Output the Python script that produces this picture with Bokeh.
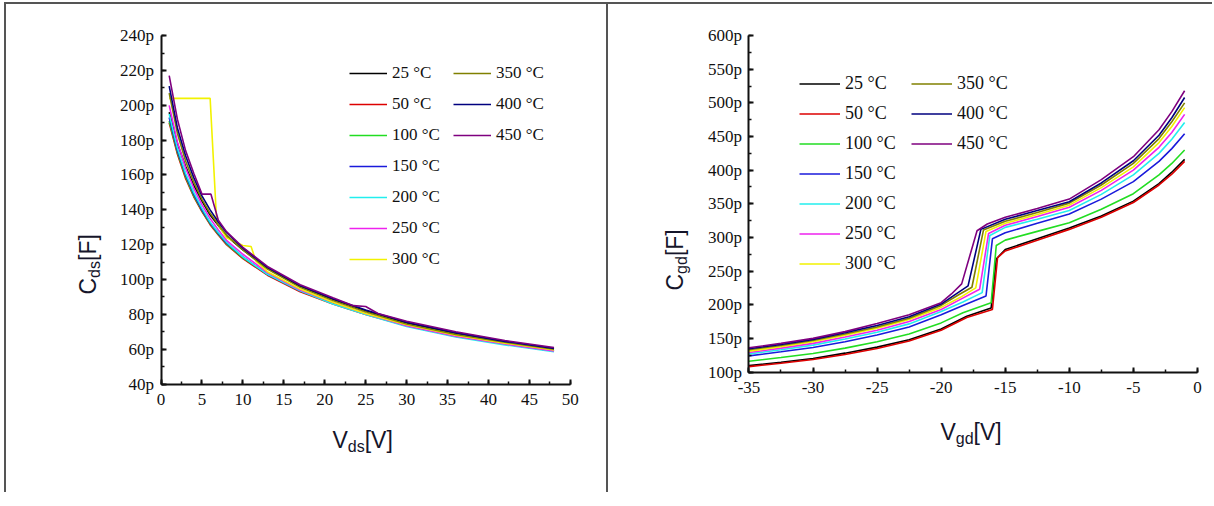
from bokeh.plotting import figure
from bokeh.layouts import row
from bokeh.models import (Range1d, SingleIntervalTicker, PrintfTickFormatter,
                          Legend, LegendItem, Label)
from bokeh.embed import file_html
from bokeh.resources import INLINE

# ---------------- data ----------------
temps = ["25", "50", "100", "150", "200", "250", "300", "350", "400", "450"]
colors = ["#000000", "#dd0000", "#22dd22", "#1a1adb", "#22eeee",
          "#ee22ee", "#f2f200", "#808000", "#00007f", "#7f007f"]

# left panel: Cds [pF] vs Vds [V]
vds_lim = [0, 50]
cds_lim = [40, 240]
vds = [1, 2, 3, 4, 5, 6, 7, 8, 10, 13, 17, 21, 25, 30, 36, 42, 48]
vds_300 = [1, 6, 6.8, 8, 10, 11, 11.6, 13, 17, 21, 25, 30, 36, 42, 48]
vds_450 = [1, 2, 3, 4, 5, 6.1, 7, 8, 10, 13, 17, 21, 23.5, 25, 26.5, 30, 36, 42, 48]
cds_25 = [196, 178, 165, 154, 145, 137, 131, 125, 117, 106.5, 96, 88.5, 82, 75, 69, 64, 60]
cds_50 = [190, 172, 158, 147.5, 139, 131.5, 125.5, 120, 112, 102.5, 93, 86, 80, 73.5, 67.5, 63, 59]
cds_100 = [191, 173, 159, 148, 139.5, 132, 126, 120.5, 112.5, 103, 93.5, 86.5, 80.5, 73.5, 67.5, 63, 59]
cds_150 = [193, 174, 160, 149, 140, 132.5, 126.5, 121, 113, 103, 93.5, 86.5, 80.5, 73.5, 67.5, 63, 59]
cds_200 = [195, 175.5, 161, 150, 141, 133, 127, 121.5, 113, 103, 93.5, 86, 80, 73, 67, 62.5, 58.5]
cds_250 = [200, 179, 164, 152.5, 143, 135, 128.5, 122.5, 114.5, 104, 94, 87, 80.5, 73.5, 67.5, 63, 59]
cds_300 = [204, 204, 133, 124, 119.5, 119, 110.5, 104.5, 94.5, 87, 80.5, 74, 68, 63.5, 59.5]
cds_350 = [207, 184, 168, 156, 146, 138, 131.5, 125.5, 117, 106, 95.5, 88, 81.5, 74.5, 68.5, 64, 60]
cds_400 = [211, 187, 171, 158.5, 148, 140, 133, 127, 118, 107, 96.5, 89, 82.5, 75.5, 69.5, 64.5, 60.5]
cds_450 = [217, 192, 174, 161, 149, 149, 134, 127.5, 118.5, 107.5, 97, 89.5, 85, 84.5, 80.5, 76, 70, 65, 61]

# right panel: Cgd [pF] vs Vgd [V]
vgd_lim = [-35, 0]
cgd_lim = [100, 600]
vgd_25 = [-35, -32.5, -30, -27.5, -25, -22.5, -20, -18, -16.1, -15.7, -15, -12.5, -10, -7.5, -5, -3, -2, -1]
vgd_50 = [-35, -32.5, -30, -27.5, -25, -22.5, -20, -18, -16.0, -15.6, -15, -12.5, -10, -7.5, -5, -3, -2, -1]
vgd_100 = [-35, -32.5, -30, -27.5, -25, -22.5, -20, -18.3, -16.1, -15.7, -15, -12.5, -10, -7.5, -5, -3, -2, -1]
vgd_150 = [-35, -32.5, -30, -27.5, -25, -22.5, -20, -18.3, -16.5, -16.0, -15, -12.5, -10, -7.5, -5, -3, -2, -1]
vgd_200 = [-35, -32.5, -30, -27.5, -25, -22.5, -20, -18.3, -16.8, -16.2, -15, -12.5, -10, -7.5, -5, -3, -2, -1]
vgd_250 = [-35, -32.5, -30, -27.5, -25, -22.5, -20, -18.5, -17.0, -16.3, -15, -12.5, -10, -7.5, -5, -3, -2, -1]
vgd_300 = [-35, -32.5, -30, -27.5, -25, -22.5, -20, -18.5, -17.3, -16.5, -15, -12.5, -10, -7.5, -5, -3, -2, -1]
vgd_350 = [-35, -32.5, -30, -27.5, -25, -22.5, -20, -18.7, -17.6, -16.7, -15, -12.5, -10, -7.5, -5, -3, -2, -1]
vgd_400 = [-35, -32.5, -30, -27.5, -25, -22.5, -20, -19.0, -17.9, -16.9, -15, -12.5, -10, -7.5, -5, -3, -2, -1]
vgd_450 = [-35, -32.5, -30, -27.5, -25, -22.5, -20, -19.2, -18.4, -17.2, -16.4, -15, -12.5, -10, -7.5, -5, -3, -2, -1]
cgd_25 = [109.5, 114.5, 120, 128, 137, 148, 164, 183, 195, 268, 282, 298, 314, 332, 354, 380, 397, 416]
cgd_50 = [108, 113, 118.5, 126, 135, 146, 162, 181, 193, 270, 280, 296, 312, 330, 352, 378, 394, 413]
cgd_100 = [116, 121.5, 127.5, 135.5, 145, 156.5, 173, 188, 203, 288, 296, 309, 322, 342, 365, 393, 410, 430]
cgd_150 = [124, 130, 136.5, 145, 155, 167, 185, 199, 213, 298, 307, 321, 335, 357, 383, 413, 432, 454]
cgd_200 = [127, 133, 140, 149, 159, 171.5, 190, 204, 218, 303, 315, 327, 340, 364, 393, 425, 446, 471]
cgd_250 = [129, 135.5, 142.5, 152, 162, 175, 193, 208, 223, 306, 318, 331, 345, 370, 400, 434, 456, 483]
cgd_300 = [131, 137.5, 145, 154.5, 165, 178, 196, 211, 225, 309, 321, 334, 348, 374, 405, 441, 465, 493]
cgd_350 = [133, 139.5, 147, 156.5, 167, 180, 199, 214, 226, 311, 324, 337, 351, 378, 410, 447, 472, 500]
cgd_400 = [134.5, 141, 148.5, 158.5, 169, 182, 201, 214, 228, 312, 327, 340, 353, 381, 414, 452, 478, 508]
cgd_450 = [136, 142.5, 150, 160, 172, 185, 203, 216, 231, 310, 320, 330, 343, 357, 386, 420, 460, 487, 518]

left_series = [(vds, cds_25), (vds, cds_50), (vds, cds_100), (vds, cds_150), (vds, cds_200),
               (vds, cds_250), (vds_300, cds_300), (vds, cds_350), (vds, cds_400), (vds_450, cds_450)]
right_series = [(vgd_25, cgd_25), (vgd_50, cgd_50), (vgd_100, cgd_100), (vgd_150, cgd_150),
                (vgd_200, cgd_200), (vgd_250, cgd_250), (vgd_300, cgd_300), (vgd_350, cgd_350),
                (vgd_400, cgd_400), (vgd_450, cgd_450)]

SERIF = "Liberation Serif"
SANS = "Liberation Sans"
LABEL_COLOR = "#15152a"
BORDER = "2px solid #555555"


def span_range(lim, p0, p1, size, flip=False):
    """Range so that lim[0] lands at canvas pixel p0 and lim[1] at p1 (frame = whole canvas)."""
    if not flip:
        scale = (p1 - p0) / (lim[1] - lim[0])
        return Range1d(lim[0] - p0 / scale, lim[1] + (size - p1) / scale)
    scale = (p0 - p1) / (lim[1] - lim[0])
    return Range1d(lim[0] - (size - p0) / scale, lim[1] + p1 / scale)


def style_axes(p, xlim, ylim, xint, yint):
    p.xaxis.ticker = SingleIntervalTicker(interval=xint, num_minor_ticks=2)
    p.yaxis.ticker = SingleIntervalTicker(interval=yint, num_minor_ticks=2)
    p.xaxis.formatter = PrintfTickFormatter(format="%d")
    p.yaxis.formatter = PrintfTickFormatter(format="%dp")
    p.xaxis.fixed_location = ylim[0]
    p.yaxis.fixed_location = xlim[0]
    p.xaxis.bounds = tuple(xlim)
    p.yaxis.bounds = tuple(ylim)
    for ax in (p.xaxis[0], p.yaxis[0]):
        ax.axis_line_width = 2
        ax.axis_line_color = "#111111"
        ax.major_tick_in = 5
        ax.major_tick_out = 0
        ax.minor_tick_in = 3
        ax.minor_tick_out = 0
        ax.major_tick_line_width = 2
        ax.major_tick_line_color = "#111111"
        ax.minor_tick_line_width = 1.5
        ax.minor_tick_line_color = "#111111"
        ax.major_label_text_font = SERIF
        ax.major_label_text_font_size = "17px"
        ax.major_label_text_color = "#111111"
    p.xaxis.major_label_standoff = 10
    p.yaxis.major_label_standoff = 7
    p.xgrid.visible = False
    p.ygrid.visible = False
    p.outline_line_color = None


def sub_label(p, parts, rotated=False):
    # parts: list of (text, x, y, size) in canvas pixels (y from top), anchored at text middle
    for txt, x, y, size in parts:
        p.add_layout(Label(x=x, y=y, x_units="canvas", y_units="canvas", text=txt,
                           text_font=SANS, text_font_size=size, text_color=LABEL_COLOR,
                           text_align="left", text_baseline="middle",
                           angle=(90 if rotated else 0), angle_units="deg"))


def add_legend(p, renderers, loc, gw, gh, lw, spacing, fsize):
    items = [LegendItem(label=f"{t} \u00b0C", renderers=[r]) for t, r in zip(temps, renderers)]
    leg = Legend(items=items, location=loc, nrows=7, glyph_width=gw, glyph_height=gh,
                 label_height=gh, label_width=lw, label_standoff=5, spacing=spacing,
                 padding=0, margin=0, border_line_color=None, background_fill_alpha=0,
                 label_text_font=SERIF, label_text_font_size=fsize, label_text_color="#111111")
    p.add_layout(leg)


def make_fig(w, h, xr, yr, extra_styles):
    styles = {"border-left": BORDER, "border-top": BORDER, "margin-top": "2px"}
    styles.update(extra_styles)
    return figure(width=w, height=h, x_range=xr, y_range=yr,
                  output_backend="svg", toolbar_location=None,
                  min_border_left=0, min_border_right=0, min_border_top=0, min_border_bottom=0,
                  styles=styles)


# ---------------- left figure (canvas 600 x 488) ----------------
p1 = make_fig(602, 490, span_range(vds_lim, 154, 562, 600),
              span_range(cds_lim, 378, 31, 488, flip=True), {"margin-left": "4px"})
style_axes(p1, vds_lim, cds_lim, 5, 20)
r1 = []
for (xs, ys), c in zip(left_series, colors):
    r1.append(p1.line(xs, ys, line_color=c, line_width=1.6))
add_legend(p1, r1, (343, 225), 38, 20, 50, 11, "17px")
sub_label(p1, [("V", 324, 433, "23px"), ("ds", 339.3, 439.5, "16px"), ("[V]", 356.2, 433, "23px")])
sub_label(p1, [("C", 79, 288, "23px"), ("ds", 85.5, 271.4, "16px"), ("[F]", 79, 254.5, "23px")],
          rotated=True)

# ---------------- right figure (canvas 604 x 488) ----------------
p2 = make_fig(606, 490, span_range(vgd_lim, 140, 587, 604),
              span_range(cgd_lim, 366, 31, 488, flip=True), {})
style_axes(p2, vgd_lim, cgd_lim, 5, 50)
r2 = []
for (xs, ys), c in zip(right_series, colors):
    r2.append(p2.line(xs, ys, line_color=c, line_width=1.6))
add_legend(p2, r2, (191, 220), 41, 21, 57, 9, "18px")
sub_label(p2, [("V", 330, 425, "23px"), ("gd", 345.3, 431.5, "16px"), ("[V]", 363.1, 425, "23px")])
sub_label(p2, [("C", 64, 284, "23px"), ("gd", 70.5, 267.4, "16px"), ("[F]", 64, 249.6, "23px")],
          rotated=True)

layout = row(p1, p2)
open("out.html", "w").write(file_html(layout, INLINE))
